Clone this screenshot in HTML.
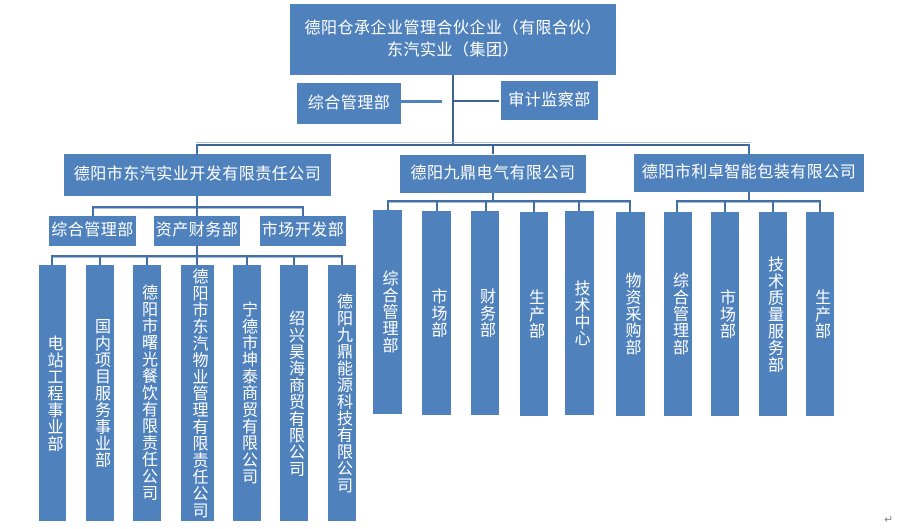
<!DOCTYPE html>
<html><head><meta charset="utf-8"><style>
html,body{margin:0;padding:0;background:#fff;}
body{width:897px;height:529px;position:relative;overflow:hidden;font-family:"Liberation Sans","Noto Sans CJK SC",sans-serif;}
.b{position:absolute;background:#4F81BD;color:#fff;display:flex;align-items:center;justify-content:center;font-size:16px;letter-spacing:0.5px;white-space:nowrap;line-height:22px;text-align:center;}
.v{position:absolute;background:#4F81BD;color:#fff;display:flex;align-items:center;justify-content:center;font-size:16px;}
.v span{writing-mode:vertical-rl;text-orientation:upright;letter-spacing:0.7px;line-height:16px;}
.l{position:absolute;background:#4470A8;}
.lt{position:absolute;background:#A9BDD8;}
</style></head><body>

<!-- top -->
<div class="b" style="left:290px;top:4px;width:326px;height:71px;"><div>德阳仓承企业管理合伙企业（有限合伙）<br>东汽实业（集团）</div></div>
<div class="b" style="left:297px;top:83px;width:104px;height:41px;">综合管理部</div>
<div class="b" style="left:501px;top:81px;width:97px;height:39px;">审计监察部</div>

<div class="l" style="left:401px;top:100px;width:41px;height:3px;background:#4F81BD;"></div>
<div class="l" style="left:452px;top:75px;width:2px;height:71px;background:#3D6395;"></div>
<div class="l" style="left:454px;top:100px;width:45px;height:2px;background:#3D6395;"></div>

<div class="lt" style="left:196px;top:142px;width:555px;height:1px;"></div>
<div class="l" style="left:196px;top:144px;width:554px;height:2px;background:#3D6395;"></div>
<div class="l" style="left:196px;top:144px;width:2px;height:10px;"></div>
<div class="l" style="left:492px;top:144px;width:2px;height:10px;background:#3D6395;"></div>
<div class="l" style="left:748px;top:144px;width:2px;height:10px;"></div>

<!-- companies -->
<div class="b" style="left:64px;top:154px;width:267px;height:42px;">德阳市东汽实业开发有限责任公司</div>
<div class="b" style="left:400px;top:155px;width:186px;height:38px;">德阳九鼎电气有限公司</div>
<div class="b" style="left:634px;top:154px;width:230px;height:38px;">德阳市利卓智能包装有限公司</div>

<!-- left company sub -->
<div class="l" style="left:196px;top:196px;width:2px;height:12px;"></div>
<div class="l" style="left:92px;top:206px;width:212px;height:2px;"></div>
<div class="lt" style="left:92px;top:208px;width:212px;height:1px;"></div>
<div class="l" style="left:92px;top:206px;width:2px;height:10px;"></div>
<div class="l" style="left:196px;top:206px;width:2px;height:10px;"></div>
<div class="l" style="left:302px;top:206px;width:2px;height:10px;"></div>

<div class="b" style="left:49px;top:216px;width:87px;height:30px;">综合管理部</div>
<div class="b" style="left:154px;top:216px;width:86px;height:30px;">资产财务部</div>
<div class="b" style="left:260px;top:216px;width:86px;height:30px;">市场开发部</div>

<div class="l" style="left:196px;top:246px;width:2px;height:11px;"></div>
<div class="l" style="left:51px;top:255px;width:292px;height:2px;"></div>
<div class="lt" style="left:51px;top:257px;width:292px;height:1px;"></div>
<div class="l" style="left:51px;top:255px;width:2px;height:10px;"></div>
<div class="l" style="left:99px;top:255px;width:2px;height:10px;"></div>
<div class="l" style="left:146px;top:255px;width:2px;height:10px;"></div>
<div class="l" style="left:196px;top:255px;width:2px;height:10px;"></div>
<div class="l" style="left:246px;top:255px;width:2px;height:10px;"></div>
<div class="l" style="left:293px;top:255px;width:2px;height:10px;"></div>
<div class="l" style="left:341px;top:255px;width:2px;height:10px;"></div>

<div class="v" style="left:39px;top:265px;width:27px;height:256px;"><span>电站工程事业部</span></div>
<div class="v" style="left:86px;top:265px;width:28px;height:256px;"><span>国内项目服务事业部</span></div>
<div class="v" style="left:133px;top:265px;width:28px;height:256px;"><span>德阳市曙光餐饮有限责任公司</span></div>
<div class="v" style="left:181px;top:265px;width:33px;height:256px;"><span>德阳市东汽物业管理有限责任公司</span></div>
<div class="v" style="left:233px;top:265px;width:28px;height:256px;"><span>宁德市坤泰商贸有限公司</span></div>
<div class="v" style="left:280px;top:265px;width:28px;height:256px;"><span>绍兴昊海商贸有限公司</span></div>
<div class="v" style="left:328px;top:265px;width:28px;height:256px;"><span>德阳九鼎能源科技有限公司</span></div>

<!-- middle company sub -->
<div class="l" style="left:492px;top:193px;width:2px;height:9px;"></div>
<div class="l" style="left:387px;top:200px;width:244px;height:2px;"></div>
<div class="lt" style="left:387px;top:202px;width:244px;height:1px;"></div>
<div class="l" style="left:387px;top:200px;width:2px;height:10px;"></div>
<div class="l" style="left:436px;top:200px;width:2px;height:11px;"></div>
<div class="l" style="left:485px;top:200px;width:2px;height:11px;"></div>
<div class="l" style="left:533px;top:200px;width:2px;height:12px;"></div>
<div class="l" style="left:578px;top:200px;width:2px;height:11px;"></div>
<div class="l" style="left:629px;top:200px;width:2px;height:12px;"></div>

<div class="v" style="left:373px;top:210px;width:29px;height:204px;"><span>综合管理部</span></div>
<div class="v" style="left:422px;top:211px;width:29px;height:204px;"><span>市场部</span></div>
<div class="v" style="left:471px;top:211px;width:28px;height:204px;"><span>财务部</span></div>
<div class="v" style="left:520px;top:212px;width:28px;height:204px;"><span>生产部</span></div>
<div class="v" style="left:565px;top:211px;width:29px;height:204px;"><span>技术中心</span></div>
<div class="v" style="left:616px;top:212px;width:29px;height:204px;"><span>物资采购部</span></div>

<!-- right company sub -->
<div class="l" style="left:748px;top:192px;width:2px;height:10px;"></div>
<div class="l" style="left:676px;top:200px;width:145px;height:2px;"></div>
<div class="lt" style="left:676px;top:202px;width:145px;height:1px;"></div>
<div class="l" style="left:676px;top:200px;width:2px;height:12px;"></div>
<div class="l" style="left:724px;top:200px;width:2px;height:12px;"></div>
<div class="l" style="left:772px;top:200px;width:2px;height:12px;"></div>
<div class="l" style="left:819px;top:200px;width:2px;height:12px;"></div>

<div class="v" style="left:664px;top:212px;width:28px;height:204px;"><span>综合管理部</span></div>
<div class="v" style="left:711px;top:212px;width:28px;height:204px;"><span>市场部</span></div>
<div class="v" style="left:759px;top:212px;width:28px;height:204px;"><span>技术质量服务部</span></div>
<div class="v" style="left:806px;top:212px;width:28px;height:204px;"><span>生产部</span></div>

<div style="position:absolute;left:884px;top:513px;font-size:11px;color:#888;">↵</div>
</body></html>
